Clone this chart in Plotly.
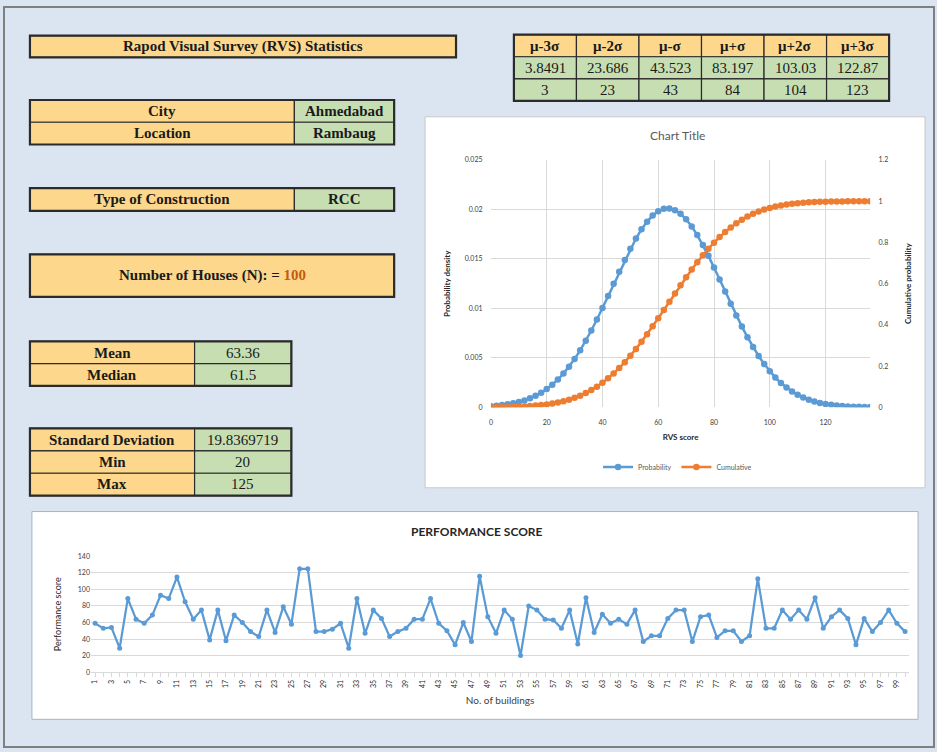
import plotly.graph_objects as go

W, H = 937, 752


def fx(p):
    return p / W


def fy(p):
    return 1 - p / H


# ---------------- data ----------------
title_text = "Rapod Visual Survey (RVS) Statistics"
site_labels = ["City", "Location"]
site_values = ["Ahmedabad", "Rambaug"]
construction_label = "Type of Construction"
construction_value = "RCC"
houses_label = "Number of Houses (N): = "
houses_value = "100"
centre_labels = ["Mean", "Median"]
centre_values = ["63.36", "61.5"]
spread_labels = ["Standard Deviation", "Min", "Max"]
spread_values = ["19.8369719", "20", "125"]
sigma_headers = ["μ-3σ", "μ-2σ", "μ-σ", "μ+σ", "μ+2σ", "μ+3σ"]
sigma_exact = ["3.8491", "23.686", "43.523", "83.197", "103.03", "122.87"]
sigma_rounded = ["3", "23", "43", "84", "104", "123"]

rvs_score = list(range(0, 137, 2))
probability = [
    0.000123, 0.000168, 0.000229, 0.000308, 0.000409, 0.000540, 0.000704, 0.000910, 0.001163, 0.001473,
    0.001845, 0.002288, 0.002809, 0.003413, 0.004107, 0.004890, 0.005764, 0.006726, 0.007768, 0.008882,
    0.010053, 0.011263, 0.012491, 0.013714, 0.014902, 0.016030, 0.017069, 0.017993, 0.018773, 0.019390,
    0.019824, 0.020064, 0.020101, 0.019934, 0.019568, 0.019015, 0.018291, 0.017417, 0.016416, 0.015316,
    0.014146, 0.012933, 0.011705, 0.010485, 0.009298, 0.008163, 0.007093, 0.006100, 0.005194, 0.004378,
    0.003653, 0.003016, 0.002466, 0.001996, 0.001599, 0.001268, 0.000995, 0.000773, 0.000595, 0.000453,
    0.000341, 0.000255, 0.000188, 0.000137, 0.000099, 0.000071, 0.000051, 0.000035, 0.000025,
]
cumulative = [
    0.000701, 0.00099, 0.001385, 0.001915, 0.002628, 0.003573, 0.004813, 0.006422, 0.008483, 0.01111,
    0.01441, 0.01854, 0.02362, 0.02983, 0.03733, 0.04631, 0.05695, 0.06942, 0.08392, 0.10058,
    0.11948, 0.14078, 0.16453, 0.19076, 0.21937, 0.25031, 0.28343, 0.31853, 0.35532, 0.39350,
    0.43274, 0.47267, 0.51287, 0.55294, 0.59247, 0.63108, 0.66842, 0.70414, 0.73801, 0.76975,
    0.79922, 0.82631, 0.85094, 0.87313, 0.89290, 0.91035, 0.92559, 0.93878, 0.95005, 0.95961,
    0.96763, 0.97429, 0.97975, 0.98420, 0.98779, 0.99064, 0.99290, 0.99466, 0.99602, 0.99706,
    0.99785, 0.99844, 0.99888, 0.99921, 0.99944, 0.99961, 0.99973, 0.99982, 0.99987,
]

buildings = list(range(1, 101))
performance = [
    59, 53, 54, 29, 89, 64, 59, 69, 93, 89,
    115, 85, 64, 75, 39, 75, 38, 69, 60, 49,
    43, 75, 48, 79, 58, 125, 125, 49, 49, 52,
    59, 29, 89, 47, 75, 65, 43, 49, 53, 64,
    64, 89, 59, 50, 33, 60, 37, 116, 67, 47,
    75, 64, 20, 80, 75, 64, 63, 53, 75, 34,
    90, 48, 70, 59, 64, 58, 75, 37, 44, 44,
    65, 75, 75, 37, 67, 69, 42, 50, 50, 37,
    44, 113, 53, 53, 75, 64, 75, 64, 90, 53,
    67, 75, 65, 33, 65, 49, 60, 75, 59, 49,
]

# ---------------- styles ----------------
BG = "#dbe5f1"
YEL = "#fdd88c"
GRN = "#c6deb2"
BORDER = "#2b2b2b"
SERIF = "Liberation Serif"
SANS = "Lato"
BLUE = "#5b9bd5"
ORANGE = "#ed7d31"
GRID = "#d9d9d9"
TICK = "#595959"
CLEAR = "rgba(0,0,0,0)"


def b(s):
    return "<b>" + s + "</b>"


shapes = [
    dict(type="rect", xref="paper", yref="paper", x0=fx(2), x1=fx(934), y0=fy(750), y1=fy(2),
         line=dict(color="#7f7f7f", width=2), fillcolor=BG, layer="below"),
    dict(type="rect", xref="paper", yref="paper", x0=fx(424), x1=fx(925), y0=fy(488), y1=fy(113),
         line=dict(color="#c8c8c8", width=1), fillcolor="white", layer="below"),
    dict(type="rect", xref="paper", yref="paper", x0=fx(30), x1=fx(918), y0=fy(722), y1=fy(512),
         line=dict(color="#a6b4c8", width=1), fillcolor="white", layer="below"),
]
annotations = []


def grid_table(xs, ys, texts, fills, size=15):
    """xs/ys: pixel edges of the columns/rows; texts/fills: [row][col]."""
    for r in range(len(ys) - 1):
        for c in range(len(xs) - 1):
            shapes.append(dict(type="rect", xref="paper", yref="paper",
                               x0=fx(xs[c]), x1=fx(xs[c + 1]), y0=fy(ys[r + 1]), y1=fy(ys[r]),
                               line=dict(color=BORDER, width=1.2), fillcolor=fills[r][c],
                               layer="below"))
            annotations.append(dict(text=texts[r][c], xref="paper", yref="paper",
                                    x=fx((xs[c] + xs[c + 1]) / 2), y=fy((ys[r] + ys[r + 1]) / 2),
                                    xanchor="center", yanchor="middle", showarrow=False,
                                    font=dict(family=SERIF, size=size, color="#1a1a1a")))
    shapes.append(dict(type="rect", xref="paper", yref="paper",
                       x0=fx(xs[0]), x1=fx(xs[-1]), y0=fy(ys[-1]), y1=fy(ys[0]),
                       line=dict(color=BORDER, width=2.2), fillcolor=CLEAR,
                       layer="below"))


grid_table([28, 455], [31, 53], [[b(title_text)]], [[YEL]])
grid_table([28, 293, 393], [96, 118.5, 141],
           [[b(l), b(v)] for l, v in zip(site_labels, site_values)],
           [[YEL, GRN]] * 2)
grid_table([28, 293, 393], [185, 208], [[b(construction_label), b(construction_value)]],
           [[YEL, GRN]])
grid_table([28, 393], [252, 295],
           [[b(houses_label + "<span style='color:#c55a11'>" + houses_value + "</span>")]],
           [[YEL]])
grid_table([28, 193, 290], [340, 362.5, 385],
           [[b(l), v] for l, v in zip(centre_labels, centre_values)],
           [[YEL, GRN]] * 2)
grid_table([28, 193, 290], [428, 450.7, 473.3, 496],
           [[b(l), v] for l, v in zip(spread_labels, spread_values)],
           [[YEL, GRN]] * 3)
sig_x = [513 + i * (889 - 513) / 6 for i in range(7)]
grid_table(sig_x, [30, 52.3, 74.7, 97],
           [[b(s) for s in sigma_headers], sigma_exact, sigma_rounded],
           [[YEL] * 6, [GRN] * 6, [GRN] * 6])

fig = go.Figure()

# distribution chart
fig.add_trace(go.Scatter(x=rvs_score, y=probability, name="Probability", mode="lines+markers",
                         line=dict(color=BLUE, width=2.5), marker=dict(size=6.5, color=BLUE),
                         xaxis="x", yaxis="y"))
fig.add_trace(go.Scatter(x=rvs_score, y=cumulative, name="Cumulative", mode="lines+markers",
                         line=dict(color=ORANGE, width=2.5), marker=dict(size=6.5, color=ORANGE),
                         xaxis="x", yaxis="y2"))

# performance chart
fig.add_trace(go.Scatter(x=buildings, y=performance, mode="lines+markers", showlegend=False,
                         line=dict(color=BLUE, width=2.25), marker=dict(size=5, color=BLUE),
                         xaxis="x2", yaxis="y3"))

tick_font = dict(family=SANS, size=7, color="#404040")
axis_title_font = dict(family=SANS, size=8, color="#262626")

annotations += [
    dict(text="Chart Title", xref="paper", yref="paper", x=fx(677), y=fy(132),
         xanchor="center", yanchor="middle",
         showarrow=False, font=dict(family=SANS, size=12, color=TICK)),
    dict(text="<b>PERFORMANCE SCORE</b>", xref="paper", yref="paper", x=fx(476), y=fy(532),
         xanchor="center", yanchor="middle",
         showarrow=False, font=dict(family=SANS, size=12, color="#262626")),
]

fig.update_layout(
    width=W, height=H, margin=dict(l=0, r=0, t=0, b=0),
    paper_bgcolor=BG, plot_bgcolor=CLEAR,
    font=dict(family=SANS),
    xaxis=dict(domain=[fx(490), fx(870)], anchor="y", range=[0, 136],
               tickvals=list(range(0, 121, 20)), showgrid=True, gridcolor=GRID,
               zeroline=False, showline=False, tickfont=tick_font,
               ticks="outside", ticklen=8, tickcolor=CLEAR,
               title=dict(text="<b>RVS score</b>", font=axis_title_font, standoff=9)),
    yaxis=dict(domain=[fy(406.7), fy(156.7)], anchor="x", range=[0, 0.025], dtick=0.005,
               showgrid=True, gridcolor=GRID, zeroline=False, tickfont=tick_font,
               ticks="outside", ticklen=6, tickcolor=CLEAR,
               title=dict(text="<b>Probability density</b>", font=axis_title_font, standoff=12)),
    yaxis2=dict(overlaying="y", side="right", anchor="x", range=[0, 1.2], dtick=0.2,
                showgrid=False, zeroline=False, tickfont=tick_font,
                ticks="outside", ticklen=6, tickcolor=CLEAR,
                title=dict(text="<b>Cumulative probability</b>", font=axis_title_font, standoff=18)),
    xaxis2=dict(domain=[fx(89.2), fx(909.1)], anchor="y3", range=[0.5, 100.5],
                tickvals=buildings,
                ticktext=[str(n) if n % 2 == 1 else "" for n in buildings],
                tickangle=-90, tickfont=dict(family=SANS, size=7, color="#262626"),
                showgrid=False, zeroline=False, showline=True, linecolor=GRID,
                ticks="outside", ticklen=4, tickcolor=GRID,
                title=dict(text="No. of buildings", font=dict(family=SANS, size=10, color="#404040"),
                           standoff=9)),
    yaxis3=dict(domain=[fy(674.3), fy(557.3)], anchor="x2", range=[0, 140], dtick=20,
                showgrid=True, gridcolor=GRID, zeroline=False, tickfont=tick_font,
                title=dict(text="Performance score", font=dict(family=SANS, size=9, color="#262626"),
                           standoff=14)),
    legend=dict(orientation="h", x=fx(677), y=fy(467), xanchor="center", yanchor="middle",
                font=dict(family=SANS, size=7, color=TICK), bgcolor=CLEAR),
    shapes=shapes,
    annotations=annotations,
)

fig.write_html("out.html", config={"displayModeBar": False})
with open("out.html", encoding="utf-8") as f:
    html = f.read()
html = html.replace("<head>", "<head><style>html,body{margin:0;padding:0;overflow:hidden}</style>", 1)
with open("out.html", "w", encoding="utf-8") as f:
    f.write(html)
